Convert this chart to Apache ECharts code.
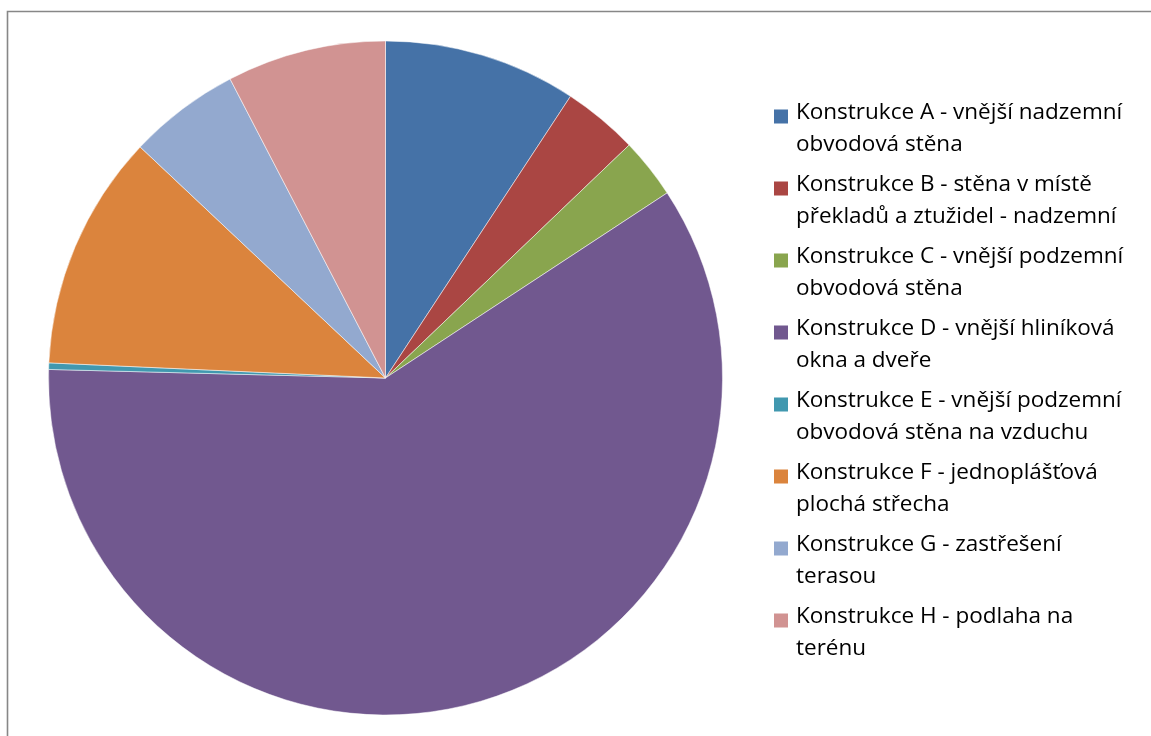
<!DOCTYPE html>
<html>
<head>
<meta charset="utf-8">
<script src="https://cdn.jsdelivr.net/npm/echarts@6/dist/echarts.min.js"></script>
<style>
html,body{margin:0;padding:0;background:#fff;}
#chart{width:1151px;height:736px;}
</style>
</head>
<body>
<div id="chart"></div>
<script>
var categories = [
  "Konstrukce A - vnější nadzemní obvodová stěna",
  "Konstrukce B - stěna v místě překladů a ztužidel - nadzemní",
  "Konstrukce C - vnější podzemní obvodová stěna",
  "Konstrukce D - vnější hliníková okna a dveře",
  "Konstrukce E - vnější podzemní obvodová stěna na vzduchu",
  "Konstrukce F - jednoplášťová plochá střecha",
  "Konstrukce G - zastřešení terasou",
  "Konstrukce H - podlaha na terénu"
];
var legendLines = [
  "Konstrukce A - vnější nadzemní\nobvodová stěna",
  "Konstrukce B - stěna v místě\npřekladů a ztužidel - nadzemní",
  "Konstrukce C - vnější podzemní\nobvodová stěna",
  "Konstrukce D - vnější hliníková\nokna a dveře",
  "Konstrukce E - vnější podzemní\nobvodová stěna na vzduchu",
  "Konstrukce F - jednoplášťová\nplochá střecha",
  "Konstrukce G - zastřešení\nterasou",
  "Konstrukce H - podlaha na\nterénu"
];
var values = [9.25, 3.61, 2.89, 59.67, 0.31, 11.31, 5.35, 7.63];
var colors = ["#4572A7", "#AA4643", "#89A54E", "#71588F", "#4198AF", "#DB843D", "#93A9CF", "#D19392"];

var chart = echarts.init(document.getElementById('chart'), null, {renderer: 'canvas'});
var data = categories.map(function (c, i) {
  return {name: c, value: values[i], itemStyle: {color: colors[i]}};
});
chart.setOption({
  animation: false,
  backgroundColor: '#ffffff',
  graphic: [{
    type: 'rect',
    shape: {x: 7.5, y: 11.5, width: 1300, height: 900},
    style: {fill: 'none', stroke: '#878787', lineWidth: 1.6},
    silent: true
  }],
  legend: {
    orient: 'vertical',
    left: 774,
    top: 96,
    padding: 0,
    itemWidth: 14,
    itemHeight: 38,
    itemGap: 7,
    icon: 'path://M0,0h14v14h-14z M0,38L0.01,38',
    itemStyle: {borderWidth: 0},
    formatter: function (name) {
      return legendLines[categories.indexOf(name)];
    },
    textStyle: {
      fontFamily: 'Open Sans',
      fontSize: 22.5,
      lineHeight: 32.5,
      color: '#000',
      padding: [0, 0, 0, 3]
    },
    data: categories
  },
  series: [{
    type: 'pie',
    center: [385.5, 378],
    radius: 337,
    startAngle: 90,
    clockwise: true,
    label: {show: false},
    labelLine: {show: false},
    emphasis: {disabled: true},
    itemStyle: {borderColor: '#ffffff', borderWidth: 0.5},
    data: data
  }]
});
</script>
</body>
</html>
